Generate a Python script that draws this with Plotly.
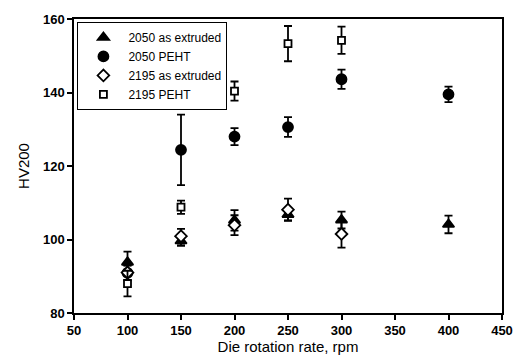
import plotly.graph_objects as go

ae2050_x = [100, 150, 200, 250, 300, 400]
ae2050_y = [93.8, 99.6, 105.2, 106.8, 105.3, 104.1]
ae2050_e = [2.9, 1.3, 2.8, 1.6, 2.3, 2.4]

pe2050_x = [100, 150, 200, 250, 300, 400]
pe2050_y = [90.9, 124.4, 128.0, 130.6, 143.6, 139.5]
pe2050_e = [2.0, 9.6, 2.3, 2.7, 2.6, 2.1]

ae2195_x = [100, 150, 200, 250, 300]
ae2195_y = [91.0, 100.9, 103.9, 108.1, 101.5]
ae2195_e = [2.0, 2.0, 2.7, 3.0, 3.7]

pe2195_x = [100, 150, 200, 250, 300]
pe2195_y = [88.0, 108.8, 140.4, 153.3, 154.2]
pe2195_e = [3.5, 1.8, 2.6, 4.8, 3.7]

names = ["2050 as extruded", "2050 PEHT", "2195 as extruded", "2195 PEHT"]
x_ticks = [50, 100, 150, 200, 250, 300, 350, 400, 450]
y_ticks = [80, 100, 120, 140, 160]

fig = go.Figure()

def add(x, y, e, name, symbol, fill, size):
    fig.add_trace(go.Scatter(
        x=x, y=y, name=name, mode="markers",
        error_y=dict(type="data", array=e, visible=True, color="black", thickness=1.8, width=4),
        marker=dict(symbol=symbol, size=size, color=fill,
                    line=dict(color="black", width=1.8)),
    ))

add(ae2050_x, ae2050_y, ae2050_e, names[0], "triangle-up", "black", 10)
add(pe2050_x, pe2050_y, pe2050_e, names[1], "circle", "black", 10)
add(ae2195_x, ae2195_y, ae2195_e, names[2], "diamond", "white", 9)
add(pe2195_x, pe2195_y, pe2195_e, names[3], "square", "white", 7)

fig.update_layout(
    width=525, height=363,
    margin=dict(l=74, r=17, t=16, b=45),
    paper_bgcolor="white", plot_bgcolor="white",
    font=dict(family="Liberation Sans, Arial, sans-serif", color="black", size=12),
    legend=dict(x=0.008, y=0.99, xanchor="left", yanchor="top",
                bordercolor="black", borderwidth=1, bgcolor="white",
                font=dict(size=12), tracegroupgap=0, itemwidth=40),
    showlegend=True,
)
fig.update_xaxes(
    range=[50, 450], tickvals=x_ticks,
    ticks="outside", ticklen=5, tickwidth=1.5, tickcolor="black",
    showline=True, linecolor="black", linewidth=1.5, mirror=True,
    showgrid=False, zeroline=False,
    tickfont=dict(size=13, weight="bold"),
    title=dict(text="Die rotation rate, rpm", font=dict(size=15), standoff=2),
)
fig.update_yaxes(
    range=[80, 160], tickvals=y_ticks,
    ticks="outside", ticklen=5, tickwidth=1.5, tickcolor="black",
    showline=True, linecolor="black", linewidth=1.5, mirror=True,
    showgrid=False, zeroline=False,
    tickfont=dict(size=13, weight="bold"),
    title=dict(text="HV200", font=dict(size=15), standoff=10),
)

fig.write_html("out.html")
